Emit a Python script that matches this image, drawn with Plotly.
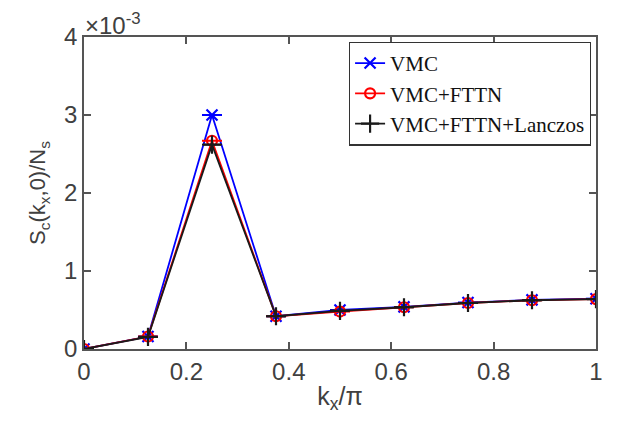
import plotly.graph_objects as go

kx = [0, 0.125, 0.25, 0.375, 0.5, 0.625, 0.75, 0.875, 1.0]
vmc = [0.0, 0.16e-3, 3.00e-3, 0.42e-3, 0.50e-3, 0.54e-3, 0.595e-3, 0.63e-3, 0.645e-3]
fttn = [0.0, 0.16e-3, 2.67e-3, 0.42e-3, 0.48e-3, 0.535e-3, 0.59e-3, 0.625e-3, 0.64e-3]
lanczos = [0.0, 0.155e-3, 2.62e-3, 0.42e-3, 0.49e-3, 0.535e-3, 0.59e-3, 0.625e-3, 0.64e-3]
err = [1e-6] * 9

ytickvals = [0, 1e-3, 2e-3, 3e-3, 4e-3]
yticktext = ["0", "1", "2", "3", "4"]
xtickvals = [0, 0.2, 0.4, 0.6, 0.8, 1.0]
xticktext = ["0", "0.2", "0.4", "0.6", "0.8", "1"]

fig = go.Figure()
series = [
    ("VMC", vmc, "#0000ff", "x-thin-open", 11),
    ("VMC+FTTN", fttn, "#ff0000", "circle-open", 10),
    ("VMC+FTTN+Lanczos", lanczos, "#1a1a1a", "cross-thin-open", 13),
]
for name, ys, col, sym, sz in series:
    fig.add_trace(go.Scatter(
        x=kx, y=ys, name=name, mode="lines+markers",
        line=dict(color=col, width=1.8),
        marker=dict(symbol=sym, size=sz, color=col, line=dict(color=col, width=2.2)),
        error_y=dict(type="data", array=err, visible=True, color=col, thickness=1.8, width=10),
    ))

axcol = "#555555"
txtcol = "#404040"
fig.update_layout(
    width=605, height=415,
    margin=dict(l=76, r=10, t=29, b=74),
    paper_bgcolor="white", plot_bgcolor="white",
    font=dict(family="Liberation Sans, Arial, sans-serif", color=txtcol, size=24),
    showlegend=True,
    legend=dict(
        x=0.99, y=0.985, xanchor="right", yanchor="top",
        bgcolor="white", bordercolor="#333333", borderwidth=1.2,
        font=dict(family="Liberation Serif, Times New Roman, serif", size=21, color="#111111"),
        tracegroupgap=0, itemwidth=30,
    ),
    xaxis=dict(
        range=[0, 1], tickvals=xtickvals, ticktext=xticktext,
        showgrid=False, zeroline=False, showline=True, linecolor=axcol, linewidth=1.5,
        mirror="ticks", ticks="inside", ticklen=7, tickcolor=axcol, tickwidth=1.5,
        tickfont=dict(size=24, color=txtcol),
        title=dict(text="k<sub>x</sub>/π", font=dict(size=25, color=txtcol), standoff=4),
    ),
    yaxis=dict(
        range=[0, 4e-3], tickvals=ytickvals, ticktext=yticktext,
        showgrid=False, zeroline=False, showline=True, linecolor=axcol, linewidth=1.5,
        mirror="ticks", ticks="inside", ticklen=7, tickcolor=axcol, tickwidth=1.5,
        tickfont=dict(size=24, color=txtcol),
        title=dict(text="S<sub>c</sub>(k<sub>x</sub>,0)/N<sub>s</sub>", font=dict(size=22, color=txtcol), standoff=12),
    ),
)
fig.add_annotation(
    x=0, y=1, xref="paper", yref="paper", xanchor="left", yanchor="bottom",
    text="×10<sup>-3</sup>", showarrow=False, xshift=-1, yshift=-4,
    font=dict(size=24, color=txtcol, family="Liberation Sans, Arial, sans-serif"),
)
fig.write_html("out.html")
